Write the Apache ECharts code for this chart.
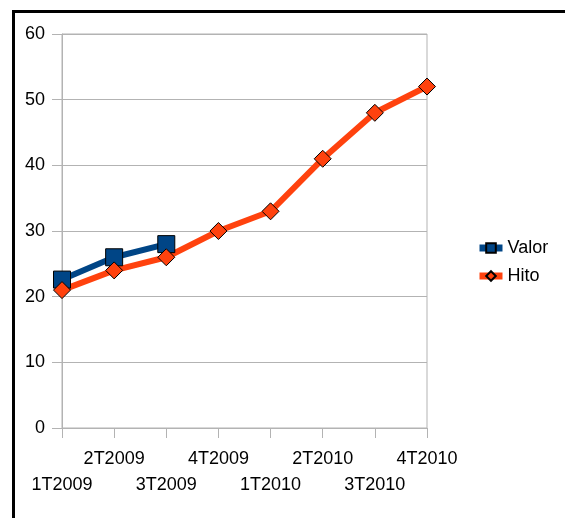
<!DOCTYPE html>
<html><head><meta charset="utf-8">
<script src="https://cdn.jsdelivr.net/npm/echarts@6/dist/echarts.min.js"></script>
<style>
html,body{margin:0;padding:0;background:#fff;width:565px;height:518px;overflow:hidden;position:relative;}
#frame{position:absolute;left:12px;top:10px;width:600px;height:600px;border:3px solid #000;box-sizing:border-box;}
#chart{position:absolute;left:0;top:0;width:565px;height:518px;}
</style></head>
<body>
<div id="frame"></div>
<div id="chart"></div>
<script>
const categories = ['1T2009','2T2009','3T2009','4T2009','1T2010','2T2010','3T2010','4T2010'];
const valor = [22.6, 26, 28, null, null, null, null, null];
const hito = [21, 24, 26, 30, 33, 41, 48, 52];
const yTicks = [0, 10, 20, 30, 40, 50, 60];

const font = '"Liberation Sans", Arial, sans-serif';
const chart = echarts.init(document.getElementById('chart'), null, {renderer: 'canvas'});
chart.setOption({
  animation: false,
  backgroundColor: 'transparent',
  grid: {left: 62, top: 34, width: 365, height: 394, show: true, borderColor: '#b3b3b3', borderWidth: 1, backgroundColor: '#fff'},
  legend: {
    orient: 'vertical', left: 471, top: 234, itemWidth: 23, itemHeight: 12, itemGap: 10,
    textStyle: {fontFamily: font, fontSize: 18, color: '#000'},
    lineStyle: {width: 7},
    data: ['Valor', 'Hito']
  },
  xAxis: {
    type: 'category', data: categories, boundaryGap: false,
    axisLine: {lineStyle: {color: '#b3b3b3', width: 1}},
    axisTick: {show: true, length: 10, interval: 0, lineStyle: {color: '#b3b3b3'}},
    splitLine: {show: false},
    axisLabel: {
      interval: 0, margin: 18, color: '#000', fontFamily: font, fontSize: 18, lineHeight: 26,
      formatter: (v, i) => i % 2 === 0 ? ' \n' + v : v + '\n '
    }
  },
  yAxis: {
    type: 'value', min: yTicks[0], max: yTicks[yTicks.length - 1], interval: 10,
    axisLine: {show: true, lineStyle: {color: '#b3b3b3', width: 1}},
    axisTick: {show: true, length: 10, lineStyle: {color: '#b3b3b3'}},
    splitLine: {show: true, lineStyle: {color: '#b3b3b3', width: 1}},
    axisLabel: {margin: 17, color: '#000', fontFamily: font, fontSize: 18}
  },
  series: [
    {
      name: 'Valor', type: 'line', data: valor, connectNulls: false,
      symbol: 'rect', symbolSize: 17,
      lineStyle: {color: '#004586', width: 6},
      itemStyle: {color: '#004586', borderColor: '#000', borderWidth: 1}
    },
    {
      name: 'Hito', type: 'line', data: hito,
      symbol: 'diamond', symbolSize: 17,
      lineStyle: {color: '#ff420e', width: 6},
      itemStyle: {color: '#ff420e', borderColor: '#000', borderWidth: 1}
    }
  ]
});
</script>
</body></html>
